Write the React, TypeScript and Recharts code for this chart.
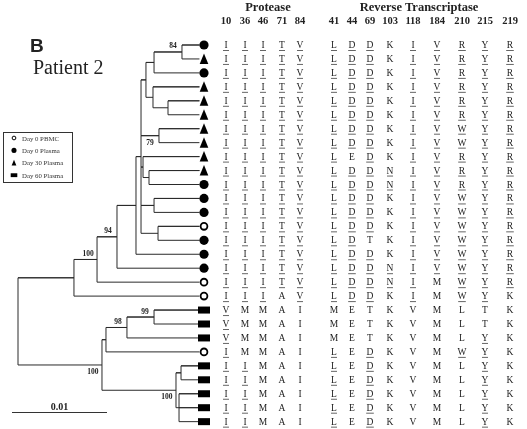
import { ComposedChart, XAxis, YAxis, Line, Scatter, Customized } from 'recharts';

// codon positions shown in the table
const proteaseCodons = [10, 36, 46, 71, 84];
const rtCodons = [41, 44, 69, 103, 118, 184, 210, 215, 219];

// residue at each codon, one entry per clone (top to bottom, same order as tree leaves)
const proteaseSeqs = [
  'IIITV', 'IIITV', 'IIITV', 'IIITV', 'IIITV', 'IIITV', 'IIITV', 'IIITV', 'IIITV', 'IIITV',
  'IIITV', 'IIITV', 'IIITV', 'IIITV', 'IIITV', 'IIITV', 'IIITV', 'IIITV', 'IIIAV', 'VMMAI',
  'VMMAI', 'VMMAI', 'IMMAI', 'IIMAI', 'IIMAI', 'IIMAI', 'IIMAI', 'IIMAI',
];
const rtSeqs = [
  'LDDKIVRYR', 'LDDKIVRYR', 'LDDKIVRYR', 'LDDKIVRYR', 'LDDKIVRYR', 'LDDKIVRYR', 'LDDKIVWYR',
  'LDDKIVWYR', 'LEDKIVRYR', 'LDDNIVRYR', 'LDDNIVRYR', 'LDDKIVWYR', 'LDDKIVWYR', 'LDDKIVWYR',
  'LDTKIVWYR', 'LDDKIVWYR', 'LDDNIVWYR', 'LDDNIMWYR', 'LDDKIMWYK', 'METKVMLTK', 'METKVMLTK',
  'METKVMLYK', 'LEDKVMWYK', 'LEDKVMLYK', 'LEDKVMLYK', 'LEDKVMLYK', 'LEDKVMLYK', 'LEDKVMLYK',
];

// residues printed underlined, per column (protease then RT)
const underlinedAA = ['IV', 'I', 'I', 'T', 'V', 'L', 'D', 'D', 'N', 'I', 'V', 'RW', 'Y', 'R'];

// sample of each clone: 0 = Day 0 PBMC, 1 = Day 0 Plasma, 2 = Day 30 Plasma, 3 = Day 60 Plasma
const sampleNames = ['Day 0 PBMC', 'Day 0 Plasma', 'Day 30 Plasma', 'Day 60 Plasma'];
const sampleOf = [1, 2, 1, 2, 2, 2, 2, 2, 2, 2, 1, 1, 1, 0, 1, 1, 1, 0, 0, 3, 3, 3, 0, 3, 3, 3, 3, 3];

// tree: depth = distance from root (subst./site); children are leaf numbers or node ids
type TreeNode = { id: string; depth: number; children: (number | string)[]; support?: number };
const treeNodes: TreeNode[] = [
  { id: 'root', depth: 0, children: ['a', 'lo'] },
  { id: 'a', depth: 0.00589, children: ['b', 19] },
  { id: 'b', depth: 0.00832, children: ['c', 18], support: 100 },
  { id: 'c', depth: 0.01042, children: ['d', 17], support: 94 },
  { id: 'd', depth: 0.01242, children: ['e', 16] },
  { id: 'e', depth: 0.01295, children: ['f', 'k', 'l', 'n', 'o'] },
  { id: 'f', depth: 0.01347, children: ['g', 'i'] },
  { id: 'g', depth: 0.01432, children: ['h', 3] },
  { id: 'h', depth: 0.01726, children: [1, 2], support: 84 },
  { id: 'i', depth: 0.01421, children: [4, 'j'] },
  { id: 'j', depth: 0.01579, children: [5, 6] },
  { id: 'k', depth: 0.01484, children: [7, 8], support: 79 },
  { id: 'l', depth: 0.01316, children: [9, 'm'] },
  { id: 'm', depth: 0.01379, children: [10, 11] },
  { id: 'n', depth: 0.01432, children: [12, 13] },
  { id: 'o', depth: 0.01474, children: [14, 15] },
  { id: 'lo', depth: 0.00884, children: ['p', 't'], support: 100 },
  { id: 'p', depth: 0.00926, children: ['q', 23] },
  { id: 'q', depth: 0.01147, children: ['r', 22], support: 98 },
  { id: 'r', depth: 0.01432, children: [20, 21], support: 99 },
  { id: 't', depth: 0.01663, children: ['u', 'v'], support: 100 },
  { id: 'u', depth: 0.01716, children: [24, 25] },
  { id: 'v', depth: 0.01695, children: [26, 27, 28] },
];
const tipDepth = 0.0191;
const scaleBar = 0.01;

// ---- layout ----
const W = 527;
const H = 429;
const PX_PER_UNIT = 9500;
const ROOT_X = 18;
const ROW0_Y = 45;
const ROW_H = 13.95;
const MARKER_X = 204;
const COL_X = [226, 245, 263, 282, 300, 334, 352, 370, 390, 413, 437, 462, 485, 510];
const supportBelow = ['k', 'lo', 't'];
const SERIF = "'Liberation Serif', 'Times New Roman', serif";
const INK = '#222';

const rowMin = 1 - ROW0_Y / ROW_H;
const rowMax = rowMin + H / ROW_H;
const distMin = -ROOT_X / PX_PER_UNIT;
const distMax = distMin + W / PX_PER_UNIT;

const byId: Record<string, TreeNode> = {};
treeNodes.forEach((n) => (byId[n.id] = n));

function childPos(c: number | string): { x: number; y: number } {
  if (typeof c === 'number') return { x: tipDepth, y: c };
  const n = byId[c];
  const first = childPos(n.children[0]);
  const last = childPos(n.children[n.children.length - 1]);
  return { x: n.depth, y: (first.y + last.y) / 2 };
}

// bracket path for each internal node: vertical through its children plus the horizontal to each child
const branchPaths = treeNodes.map((n) => {
  const pts: { x: number; y: number }[] = [];
  n.children.forEach((c, i) => {
    const p = childPos(c);
    if (i > 0) pts.push({ x: n.depth, y: p.y });
    pts.push({ x: n.depth, y: p.y }, { x: p.x, y: p.y });
    if (i < n.children.length - 1) pts.push({ x: n.depth, y: p.y });
  });
  return { id: n.id, pts };
});

const supportPoints = treeNodes
  .filter((n) => n.support !== undefined)
  .map((n) => ({ ...childPos(n.id), label: n.support, below: supportBelow.includes(n.id) }));

const codons = [...proteaseCodons, ...rtCodons];
const cells = proteaseSeqs.flatMap((pr, r) =>
  (pr + rtSeqs[r]).split('').map((aa, c) => ({
    x: COL_X[c],
    y: r + 1,
    aa,
    under: underlinedAA[c].includes(aa),
  })),
);

const leaves = sampleOf.map((s, r) => ({ x: MARKER_X, y: r + 1, s }));

function Mark({ cx, cy, s, k = 1 }: { cx: number; cy: number; s: number; k?: number }) {
  if (s === 0)
    return <circle cx={cx} cy={cy} r={3.4 * k} fill="#fff" stroke="#000" strokeWidth={1.8 * k} />;
  if (s === 1) return <circle cx={cx} cy={cy} r={4.6 * k} fill="#000" />;
  if (s === 2)
    return (
      <polygon
        points={`${cx},${cy - 5.5 * k} ${cx + 4.3 * k},${cy + 5 * k} ${cx - 4.3 * k},${cy + 5 * k}`}
        fill="#000"
      />
    );
  return <rect x={cx - 6 * k} y={cy - 3.5 * k} width={12 * k} height={7 * k} fill="#000" />;
}

function Overlay() {
  return (
    <g fontFamily={SERIF} fill={INK}>
      <text x={30} y={52} fontFamily="'Liberation Sans', Arial, sans-serif" fontWeight="bold" fontSize={19}>
        B
      </text>
      <text x={33} y={74} fontSize={20}>
        Patient 2
      </text>

      <rect x={3.5} y={132.5} width={69} height={50} fill="none" stroke="#333" strokeWidth={1} />
      {sampleNames.map((name, i) => (
        <g key={name}>
          <Mark cx={14} cy={138 + i * 12.4} s={i} k={0.55} />
          <text x={22} y={140.5 + i * 12.4} fontSize={6.8} fill="#333">
            {name}
          </text>
        </g>
      ))}

      <text x={268} y={11} fontSize={12.5} fontWeight="bold" textAnchor="middle">
        Protease
      </text>
      <text x={419} y={11} fontSize={12.5} fontWeight="bold" textAnchor="middle">
        Reverse Transcriptase
      </text>
      {codons.map((c, i) => (
        <text key={c} x={COL_X[i]} y={24} fontSize={10.5} fontWeight="bold" textAnchor="middle">
          {c}
        </text>
      ))}

      <line x1={12} x2={12 + scaleBar * PX_PER_UNIT} y1={412.5} y2={412.5} stroke="#333" strokeWidth={1} />
      <text x={12 + (scaleBar * PX_PER_UNIT) / 2} y={409.5} fontSize={10} fontWeight="bold" textAnchor="middle">
        {scaleBar}
      </text>
    </g>
  );
}

export default function App() {
  return (
    <div
      style={{
        position: 'absolute',
        left: 0,
        top: 0,
        width: W,
        height: H,
        background: '#fff',
        willChange: 'transform',
      }}
    >
      <ComposedChart width={W} height={H} margin={{ top: 0, right: 0, bottom: 0, left: 0 }}>
        <XAxis xAxisId="dist" dataKey="x" type="number" domain={[distMin, distMax]} allowDataOverflow hide />
        <XAxis xAxisId="px" dataKey="x" type="number" domain={[0, W]} allowDataOverflow hide />
        <YAxis yAxisId="row" dataKey="y" type="number" domain={[rowMin, rowMax]} allowDataOverflow reversed hide />

        {branchPaths.map((b) => (
          <Line
            key={b.id}
            xAxisId="dist"
            yAxisId="row"
            data={b.pts}
            dataKey="y"
            type="linear"
            stroke="#2a2a2a"
            strokeWidth={1}
            dot={false}
            activeDot={false}
            isAnimationActive={false}
          />
        ))}

        <Scatter
          xAxisId="dist"
          yAxisId="row"
          data={supportPoints}
          isAnimationActive={false}
          shape={(p: any) => (
            <text
              x={p.cx - 9}
              y={p.payload.below ? p.cy + 9 : p.cy - 3.5}
              fontFamily={SERIF}
              fontSize={7.5}
              fontWeight="bold"
              fill={INK}
              textAnchor="middle"
            >
              {p.payload.label}
            </text>
          )}
        />

        <Scatter
          xAxisId="px"
          yAxisId="row"
          data={leaves}
          isAnimationActive={false}
          shape={(p: any) => <Mark cx={p.cx} cy={p.cy} s={p.payload.s} />}
        />

        <Scatter
          xAxisId="px"
          yAxisId="row"
          data={cells}
          isAnimationActive={false}
          shape={(p: any) => {
            const wide = 'WMDR'.includes(p.payload.aa) ? 3.8 : 3;
            return (
              <g>
                <text
                  x={p.cx}
                  y={p.cy + 3}
                  fontFamily={SERIF}
                  fontSize={9.5}
                  fill={INK}
                  textAnchor="middle"
                >
                  {p.payload.aa}
                </text>
                {p.payload.under && (
                  <line x1={p.cx - wide} x2={p.cx + wide} y1={p.cy + 5.5} y2={p.cy + 5.5} stroke="#555" strokeWidth={0.9} />
                )}
              </g>
            );
          }}
        />

        <Customized component={Overlay} />
      </ComposedChart>
    </div>
  );
}
